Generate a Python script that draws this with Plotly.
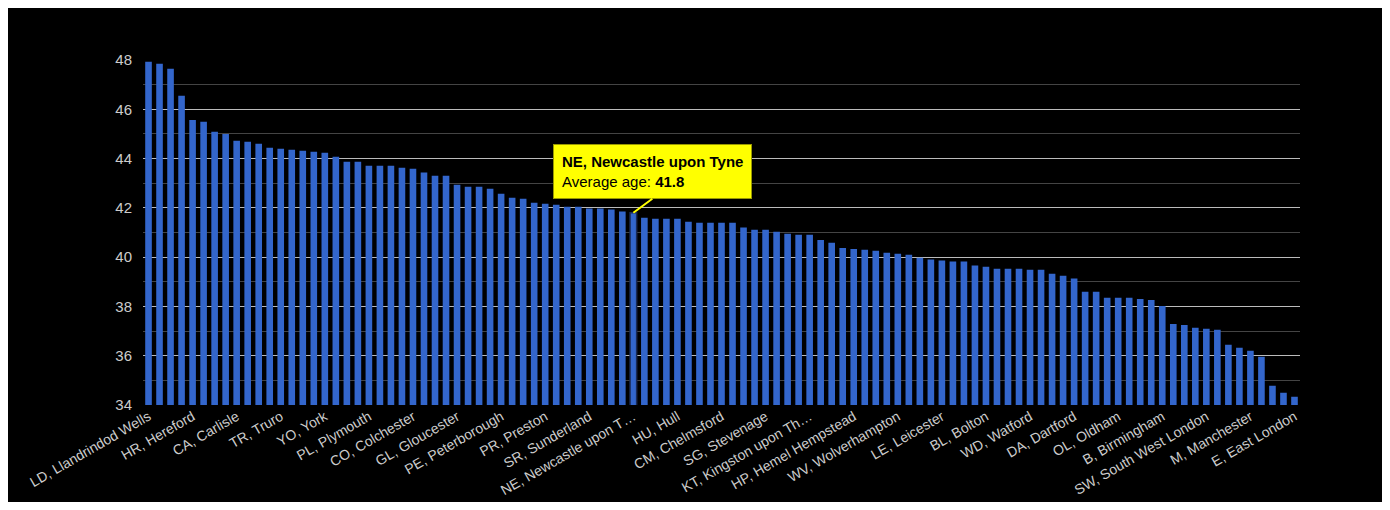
import plotly.graph_objects as go

values = [47.93, 47.85, 47.65, 46.55, 45.57, 45.49, 45.09, 45.0, 44.72, 44.68,
          44.6, 44.44, 44.4, 44.36, 44.32, 44.28, 44.24, 44.07, 43.87, 43.87,
          43.71, 43.71, 43.71, 43.63, 43.59, 43.43, 43.3, 43.3, 42.94, 42.86,
          42.86, 42.78, 42.57, 42.41, 42.37, 42.21, 42.17, 42.13, 42.05, 42.05,
          41.97, 41.97, 41.93, 41.85, 41.8, 41.6, 41.56, 41.56, 41.56, 41.44,
          41.4, 41.4, 41.4, 41.4, 41.2, 41.11, 41.11, 41.03, 40.95, 40.91,
          40.91, 40.7, 40.58, 40.37, 40.33, 40.3, 40.26, 40.18, 40.14, 40.1,
          39.98, 39.9, 39.86, 39.82, 39.82, 39.66, 39.61, 39.53, 39.53, 39.53,
          39.49, 39.49, 39.33, 39.25, 39.13, 38.6, 38.6, 38.35, 38.35, 38.35,
          38.3, 38.26, 38.02, 37.29, 37.25, 37.13, 37.09, 37.05, 36.44, 36.32,
          36.2, 35.96, 34.78, 34.5, 34.33]

tick_labels = ["LD, Llandrindod Wells", "HR, Hereford", "CA, Carlisle", "TR, Truro",
               "YO, York", "PL, Plymouth", "CO, Colchester", "GL, Gloucester",
               "PE, Peterborough", "PR, Preston", "SR, Sunderland", "NE, Newcastle upon T…",
               "HU, Hull", "CM, Chelmsford", "SG, Stevenage", "KT, Kingston upon Th…",
               "HP, Hemel Hempstead", "WV, Wolverhampton", "LE, Leicester", "BL, Bolton",
               "WD, Watford", "DA, Dartford", "OL, Oldham", "B, Birmingham",
               "SW, South West London", "M, Manchester", "E, East London"]
tick_step = 4
highlight_index = 44
highlight_name = "NE, Newcastle upon Tyne"

x = list(range(len(values)))
line_w = [0] * len(values)
line_w[highlight_index] = 1.5

fig = go.Figure(go.Bar(
    x=x, y=values, marker=dict(color="#3366cc", line=dict(color="#1a2a55", width=line_w)),
    width=0.6,
))
fig.add_annotation(
    x=highlight_index, y=values[highlight_index],
    text=f"<b>{highlight_name}</b><br>Average age: <b>{values[highlight_index]:.1f}</b>",
    showarrow=True, arrowhead=0, arrowcolor="#ffff00", arrowwidth=2,
    ax=19, ay=-14, xanchor="center", yanchor="bottom", align="left",
    bgcolor="#ffff00", bordercolor="#999900", borderwidth=1, borderpad=8,
    font=dict(color="#000", size=15, family="Arial, Liberation Sans"),
)
fig.update_layout(
    width=1374, height=494, paper_bgcolor="#000", plot_bgcolor="#000",
    margin=dict(l=135, r=82, t=52, b=97, autoexpand=False), showlegend=False, bargap=0.4,
    font=dict(family="Arial, Liberation Sans", color="#cccccc", size=14),
    xaxis=dict(tickmode="array", tickvals=x[::tick_step], ticktext=tick_labels,
               tickangle=-30, range=[-0.5, len(values) - 0.5], showgrid=False,
               automargin=False,
               ticks="", zeroline=False, tickfont=dict(size=14, color="#cccccc")),
    yaxis=dict(range=[34, 48], dtick=2, gridcolor="#bbbbbb", gridwidth=1,
               automargin=False, ticklabelstandoff=10,
               zeroline=False, ticks="", tickfont=dict(size=15, color="#cccccc"),
               minor=dict(dtick=1, showgrid=True, gridcolor="#444444")),
)
fig.write_html("out.html")
